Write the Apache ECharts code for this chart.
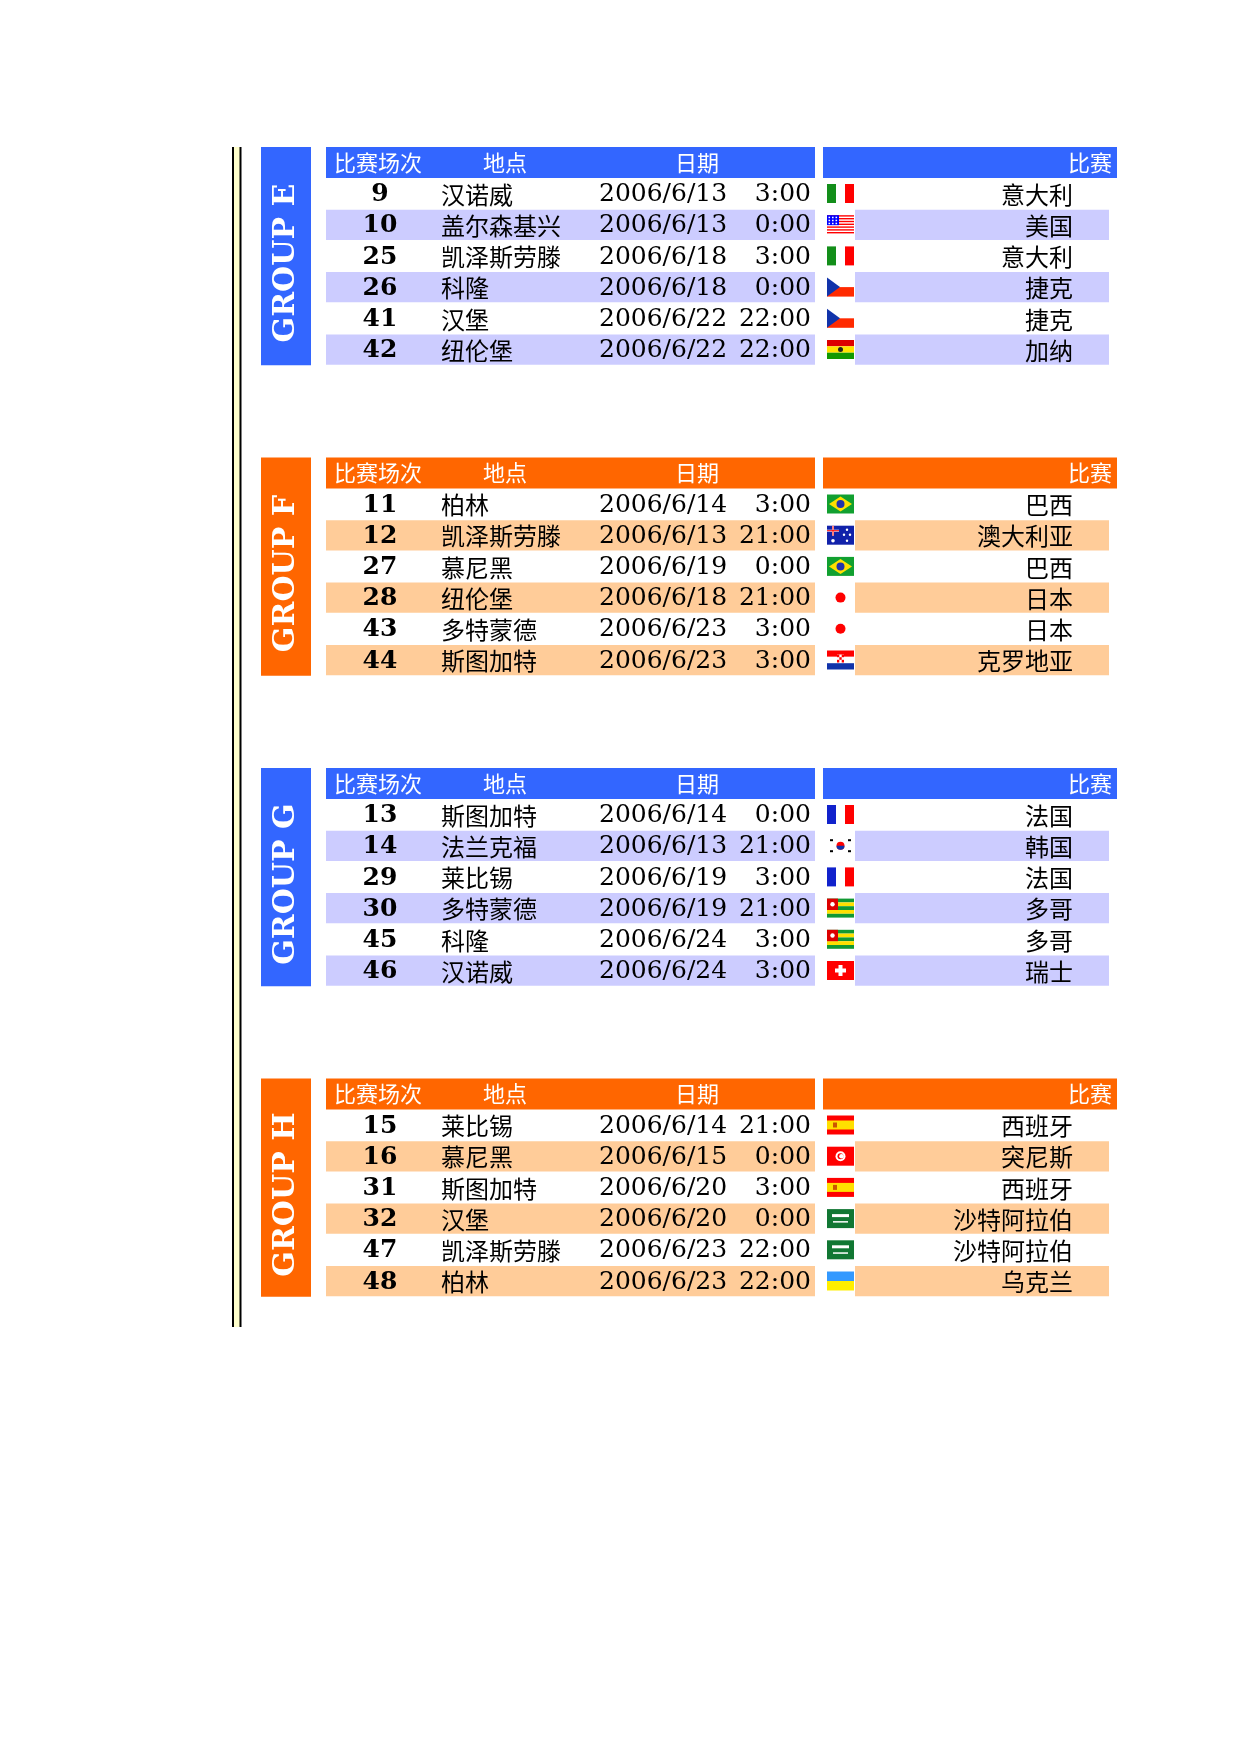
<!DOCTYPE html>
<html>
<head>
<meta charset="utf-8">
<script src="https://cdn.jsdelivr.net/npm/echarts@6/dist/echarts.min.js"></script>
<style>html,body{margin:0;padding:0;background:#fff}#chart{width:1240px;height:1754px}</style>
</head>
<body>
<div id="chart"></div>
<script>
var groupNames = ['GROUP E', 'GROUP F', 'GROUP G', 'GROUP H'];
var headColors = ['#3366FF', '#FF6600', '#3366FF', '#FF6600'];
var stripeColors = ['#CCCCFF', '#FFCC99', '#CCCCFF', '#FFCC99'];
var headers = ['比赛场次', '地点', '日期', '比赛'];
var matchNo = [[9,10,25,26,41,42],[11,12,27,28,43,44],[13,14,29,30,45,46],[15,16,31,32,47,48]];
var venues = [
    ['汉诺威','盖尔森基兴','凯泽斯劳滕','科隆','汉堡','纽伦堡'],
    ['柏林','凯泽斯劳滕','慕尼黑','纽伦堡','多特蒙德','斯图加特'],
    ['斯图加特','法兰克福','莱比锡','多特蒙德','科隆','汉诺威'],
    ['莱比锡','慕尼黑','斯图加特','汉堡','凯泽斯劳滕','柏林']
];
var dates = [
    ['2006/6/13','2006/6/13','2006/6/18','2006/6/18','2006/6/22','2006/6/22'],
    ['2006/6/14','2006/6/13','2006/6/19','2006/6/18','2006/6/23','2006/6/23'],
    ['2006/6/14','2006/6/13','2006/6/19','2006/6/19','2006/6/24','2006/6/24'],
    ['2006/6/14','2006/6/15','2006/6/20','2006/6/20','2006/6/23','2006/6/23']
];
var times = [
    ['3:00','0:00','3:00','0:00','22:00','22:00'],
    ['3:00','21:00','0:00','21:00','3:00','3:00'],
    ['0:00','21:00','3:00','21:00','3:00','3:00'],
    ['21:00','0:00','3:00','0:00','22:00','22:00']
];
var countries = [
    ['意大利','美国','意大利','捷克','捷克','加纳'],
    ['巴西','澳大利亚','巴西','日本','日本','克罗地亚'],
    ['法国','韩国','法国','多哥','多哥','瑞士'],
    ['西班牙','突尼斯','西班牙','沙特阿拉伯','沙特阿拉伯','乌克兰']
];

var CJK = '"Noto Sans CJK SC", sans-serif';
var SERIF = '"DejaVu Serif", serif';

function rect(x, y, w, h, c) {
    return {type: 'rect', shape: {x: x, y: y, width: w, height: h}, style: {fill: c}, silent: true};
}
function circ(cx, cy, r, c) {
    return {type: 'circle', shape: {cx: cx, cy: cy, r: r}, style: {fill: c}, silent: true};
}
function poly(pts, c) {
    return {type: 'polygon', shape: {points: pts}, style: {fill: c}, silent: true};
}

// small flag drawings, 27 x 19
function flag(name, x, y) {
    var w = 27, h = 19, out = [];
    switch (name) {
        case '意大利':
            out.push(rect(x, y, 9, h, '#138E1A'), rect(x + 9, y, 9, h, '#fff'), rect(x + 18, y, 9, h, '#FF0000')); break;
        case '美国':
            for (var i = 0; i < 7; i++) out.push(rect(x, y + i * 2.8, w, 1.4, '#FF0000'));
            out.push(rect(x, y, 12, 10, '#0000FF'));
            for (var a = 0; a < 3; a++) for (var b = 0; b < 3; b++) out.push(rect(x + 1.5 + a * 3.5, y + 1.5 + b * 3, 1.6, 1.5, '#fff'));
            break;
        case '捷克':
            out.push(rect(x, y + 9.5, w, 9.5, '#FF2A00'), poly([[x, y], [x + 13, y + 9.5], [x, y + h]], '#1133AA')); break;
        case '加纳':
            out.push(rect(x, y, w, 6.3, '#DD0000'), rect(x, y + 6.3, w, 6.4, '#FFE400'), rect(x, y + 12.7, w, 6.3, '#119900'), circ(x + 13.5, y + 9.5, 2.5, '#222')); break;
        case '巴西':
            out.push(rect(x, y, w, h, '#11A030'), poly([[x + 13.5, y + 2], [x + 25, y + 9.5], [x + 13.5, y + 17], [x + 2, y + 9.5]], '#FFE000'), circ(x + 13.5, y + 9.5, 4, '#2233AA')); break;
        case '澳大利亚':
            out.push(rect(x, y, w, h, '#1122AA'), rect(x, y + 4, 12, 2, '#fff'), rect(x + 5, y, 2, 10, '#fff'), rect(x, y + 4.5, 12, 1, '#FF0000'), rect(x + 5.5, y, 1, 10, '#FF0000'),
                circ(x + 6, y + 15, 1.8, '#fff'), circ(x + 20, y + 4, 1.2, '#fff'), circ(x + 17, y + 9, 1.2, '#fff'), circ(x + 23, y + 9, 1.2, '#fff'), circ(x + 20, y + 15, 1.2, '#fff')); break;
        case '日本':
            out.push(rect(x, y, w, h, '#fff'), circ(x + 13.5, y + 9.5, 5, '#FF0000')); break;
        case '克罗地亚':
            out.push(rect(x, y, w, 6.3, '#FF0000'), rect(x, y + 6.3, w, 6.4, '#fff'), rect(x, y + 12.7, w, 6.3, '#1133AA'),
                rect(x + 10, y + 4, 7, 8, '#fff'), rect(x + 10, y + 4, 2.3, 2.7, '#FF0000'), rect(x + 14.7, y + 4, 2.3, 2.7, '#FF0000'), rect(x + 12.3, y + 6.7, 2.4, 2.6, '#FF0000'), rect(x + 10, y + 9.3, 2.3, 2.7, '#FF0000'), rect(x + 14.7, y + 9.3, 2.3, 2.7, '#FF0000')); break;
        case '法国':
            out.push(rect(x, y, 9, h, '#1122CC'), rect(x + 9, y, 9, h, '#fff'), rect(x + 18, y, 9, h, '#FF0000')); break;
        case '韩国':
            out.push(rect(x, y, w, h, '#fff'), circ(x + 13.5, y + 9.5, 4, '#FF0000'), {type: 'sector', shape: {cx: x + 13.5, cy: y + 9.5, r: 4, startAngle: 0, endAngle: Math.PI}, style: {fill: '#1133AA'}, silent: true},
                rect(x + 3, y + 3, 3, 2, '#000'), rect(x + 21, y + 3, 3, 2, '#000'), rect(x + 3, y + 14, 3, 2, '#000'), rect(x + 21, y + 14, 3, 2, '#000')); break;
        case '多哥':
            for (var k = 0; k < 5; k++) out.push(rect(x, y + k * 3.8, w, 3.8, k % 2 ? '#FFE000' : '#119933'));
            out.push(rect(x, y, 11, 11.4, '#DD0000'), circ(x + 5.5, y + 5.7, 2.2, '#fff')); break;
        case '瑞士':
            out.push(rect(x, y, w, h, '#FF0000'), rect(x + 11.5, y + 4, 4, 11, '#fff'), rect(x + 8, y + 7.5, 11, 4, '#fff')); break;
        case '西班牙':
            out.push(rect(x, y, w, h, '#FF0000'), rect(x, y + 5, w, 9, '#FFE000'), rect(x + 6, y + 7, 4, 5, '#CC5500')); break;
        case '突尼斯':
            out.push(rect(x, y, w, h, '#FF0000'), circ(x + 13.5, y + 9.5, 5, '#fff'), circ(x + 13.5, y + 9.5, 3, '#FF0000'), circ(x + 14.5, y + 9.5, 2.3, '#fff')); break;
        case '沙特阿拉伯':
            out.push(rect(x, y, w, h, '#117733'), rect(x + 5, y + 5, 17, 3, '#fff'), rect(x + 6, y + 12, 15, 1.5, '#fff')); break;
        case '乌克兰':
            out.push(rect(x, y, w, 9.5, '#3399FF'), rect(x, y + 9.5, w, 9.5, '#FFEE00')); break;
    }
    return out;
}

var g = [];
var top0 = 147, pitch = 310.5, rowH = 31.2, headH = 31;

// vertical double rule on the left
g.push(rect(232, top0, 9, 1180, '#FFFFCC'));
g.push(rect(232, top0, 2, 1180, '#000'), rect(239.5, top0, 2, 1180, '#000'));

groupNames.forEach(function (name, gi) {
    var y0 = top0 + gi * pitch;
    var hc = headColors[gi], sc = stripeColors[gi];
    var blockH = headH + rowH * 6;
    g.push(rect(261, y0, 50, blockH, hc));
    g.push({type: 'text', x: 286, y: y0 + blockH / 2 + 7, rotation: Math.PI / 2, silent: true,
        style: {text: name, fill: '#fff', font: 'bold 30px ' + SERIF, align: 'center', verticalAlign: 'middle'}});
    g.push(rect(326, y0, 489, headH, hc), rect(823, y0, 294, headH, hc));
    g.push({type: 'text', x: 334, y: y0 + headH / 2, style: {text: headers[0], fill: '#fff', font: '22px ' + CJK, verticalAlign: 'middle'}});
    g.push({type: 'text', x: 505, y: y0 + headH / 2, style: {text: headers[1], fill: '#fff', font: '22px ' + CJK, align: 'center', verticalAlign: 'middle'}});
    g.push({type: 'text', x: 697, y: y0 + headH / 2, style: {text: headers[2], fill: '#fff', font: '22px ' + CJK, align: 'center', verticalAlign: 'middle'}});
    g.push({type: 'text', x: 1112, y: y0 + headH / 2, style: {text: headers[3], fill: '#fff', font: '22px ' + CJK, align: 'right', verticalAlign: 'middle'}});

    for (var r = 0; r < 6; r++) {
        var ry = y0 + headH + r * rowH, cy = ry + rowH / 2 + 1;
        if (r % 2 === 1) {
            g.push(rect(326, ry + 0.5, 489, rowH - 1, sc), rect(855, ry + 0.5, 254, rowH - 1, sc));
        }
        g.push({type: 'text', x: 380, y: cy, style: {text: String(matchNo[gi][r]), fill: '#000', font: 'bold 25px ' + SERIF, align: 'center', verticalAlign: 'middle'}});
        g.push({type: 'text', x: 441, y: cy, style: {text: venues[gi][r], fill: '#000', font: '24px ' + CJK, verticalAlign: 'middle'}});
        g.push({type: 'text', x: 599, y: cy, style: {text: dates[gi][r], fill: '#000', font: '25px ' + SERIF, verticalAlign: 'middle'}});
        g.push({type: 'text', x: 811, y: cy, style: {text: times[gi][r], fill: '#000', font: '25px ' + SERIF, align: 'right', verticalAlign: 'middle'}});
        g = g.concat(flag(countries[gi][r], 827, ry + 6));
        g.push({type: 'text', x: 1073, y: cy, style: {text: countries[gi][r], fill: '#000', font: '24px ' + CJK, align: 'right', verticalAlign: 'middle'}});
    }
});

var myChart = echarts.init(document.getElementById('chart'));
myChart.setOption({
    animation: false,
    graphic: {elements: g}
});
</script>
</body>
</html>
